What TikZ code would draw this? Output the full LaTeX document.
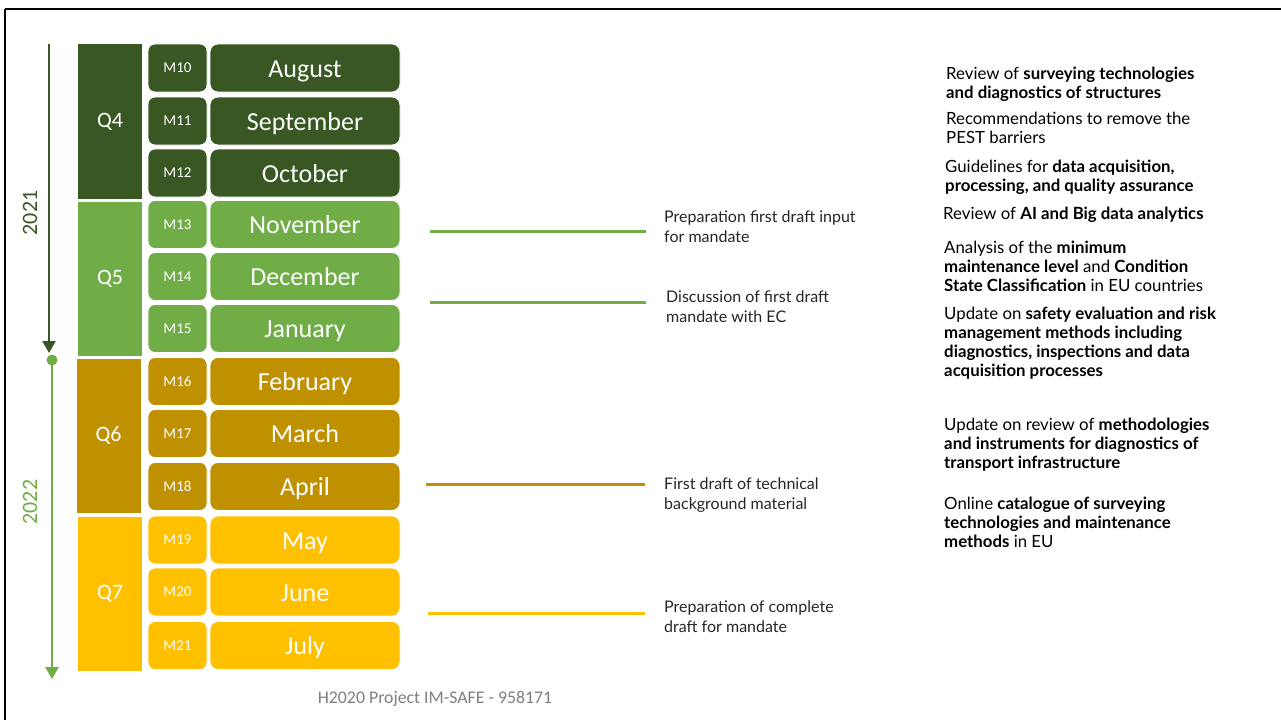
\documentclass[tikz,border=0pt]{standalone}
\usepackage{fontspec}
\setmainfont{Carlito}
\newfontfamily\latofont{Lato}
\usetikzlibrary{arrows.meta}
\definecolor{dg}{HTML}{385723}
\definecolor{lg}{HTML}{70AD47}
\definecolor{gd}{HTML}{BF9000}
\definecolor{yl}{HTML}{FFC000}
\definecolor{footgrey}{HTML}{7F7F7F}
\tikzset{
  qbox/.style={rectangle, inner sep=0, minimum width=64pt, minimum height=154pt, text=white, font=\fontsize{22}{24}\selectfont},
  mbox/.style={rectangle, rounded corners=7pt, draw=white, line width=0.8pt, inner sep=0, minimum width=59pt, minimum height=48pt, text=white, font=\fontsize{15}{17}\selectfont},
  monbox/.style={rectangle, rounded corners=8pt, draw=white, line width=0.8pt, inner sep=0, minimum width=190pt, minimum height=48pt, text height=21pt, text depth=3pt, text=white, font=\fontsize{26}{28}\selectfont},
  mtxt/.style={anchor=north west, inner sep=0, align=left, text=black!85, font=\latofont\fontsize{16}{20}\selectfont},
  rtxt/.style={anchor=north west, inner sep=0, align=left, text=black, font=\latofont\fontsize{16.8}{19}\selectfont},
  msline/.style={line width=3pt},
  yeararrow/.style={line width=2.5pt, -{Triangle[length=12pt,width=13pt]}}
}
\begin{document}
\begin{tikzpicture}[x=1pt,y=-1pt]
\useasboundingbox (0,0) rectangle (1281,720);
\fill[white] (0,0) rectangle (1281,720);
% frame
\draw[line width=2.5pt] (5,9) -- (1281,9);
\draw[line width=2.5pt] (5,9) -- (5,720);

% quarters
\node[qbox, fill=dg, minimum height=155pt] (q4) at (110,121.5) {Q4};
\node[qbox, fill=lg] (q5) at (110,279) {Q5};
\node[qbox, fill=gd] (q6) at (108.5,436) {Q6};
\node[qbox, fill=yl] (q7) at (110,594) {Q7};

% month ids and names
\foreach \id/\mon/\yy/\col in {
  M10/August/68/dg, M11/September/121/dg, M12/October/173/dg,
  M13/November/224.5/lg, M14/December/276.5/lg, M15/January/328.5/lg,
  M16/February/381.5/gd, M17/March/433.5/gd, M18/April/486.5/gd,
  M19/May/540/yl, M20/June/592/yl, M21/July/645.5/yl}{
  \node[mbox, fill=\col] (\id) at (177.5,\yy) {\id};
  \node[monbox, fill=\col] (n\id) at (305,\yy) {\mon};
}

% year arrows
\coordinate (a1s) at (49,44);
\coordinate (a1e) at (49,353);
\draw[dg, yeararrow] (a1s) -- (a1e);
\coordinate (a2s) at (52,360);
\coordinate (a2e) at (52,679);
\fill[lg] (a2s) circle (5.5pt);
\draw[lg, yeararrow] (a2s) -- (a2e);
\node[rotate=90, text=dg, font=\fontsize{22}{24}\selectfont] (y1) at (30,213) {2021};
\node[rotate=90, text=lg, font=\fontsize{22}{24}\selectfont] (y2) at (30,502) {2022};

% milestone lines
\coordinate (l1s) at (430,231); \coordinate (l1e) at (646,231);
\coordinate (l2s) at (430,302); \coordinate (l2e) at (646,302);
\coordinate (l3s) at (426,484); \coordinate (l3e) at (645,484);
\coordinate (l4s) at (428,613); \coordinate (l4e) at (645,613);
\draw[msline, lg] (l1s) -- (l1e);
\draw[msline, lg] (l2s) -- (l2e);
\draw[msline, gd] (l3s) -- (l3e);
\draw[msline, yl] (l4s) -- (l4e);

\node[mtxt] (t1) at (664,211) {Preparation first draft input\\for mandate};
\node[mtxt] (t2) at (666,291) {Discussion of first draft\\mandate with EC};
\node[mtxt] (t3) at (664,478) {First draft of technical\\background material};
\node[mtxt] (t4) at (664,601) {Preparation of complete\\draft for mandate};

% right column
\node[rtxt] (r1) at (946,67) {Review of \textbf{surveying technologies}\\\textbf{and diagnostics of structures}};
\node[rtxt] (r2) at (946,112) {Recommendations to remove the\\PEST barriers};
\node[rtxt] (r3) at (945,160) {Guidelines for \textbf{data acquisition,}\\\textbf{processing, and quality assurance}};
\node[rtxt] (r4) at (943,207) {Review of \textbf{AI and Big data analytics}};
\node[rtxt] (r5) at (944,241) {Analysis of the \textbf{minimum}\\\textbf{maintenance level} and \textbf{Condition}\\\textbf{State Classification} in EU countries};
\node[rtxt] (r6) at (944,307) {Update on \textbf{safety evaluation and risk}\\\textbf{management methods including}\\\textbf{diagnostics, inspections and data}\\\textbf{acquisition processes}};
\node[rtxt] (r7) at (944,418) {Update on review of \textbf{methodologies}\\\textbf{and instruments for diagnostics of}\\\textbf{transport infrastructure}};
\node[rtxt] (r8) at (944,497) {Online \textbf{catalogue of surveying}\\\textbf{technologies and maintenance}\\\textbf{methods} in EU};

% footer
\node[text=footgrey, font=\fontsize{17.8}{20}\selectfont] (foot) at (435,699) {H2020 Project IM-SAFE - 958171};
\end{tikzpicture}
\end{document}
